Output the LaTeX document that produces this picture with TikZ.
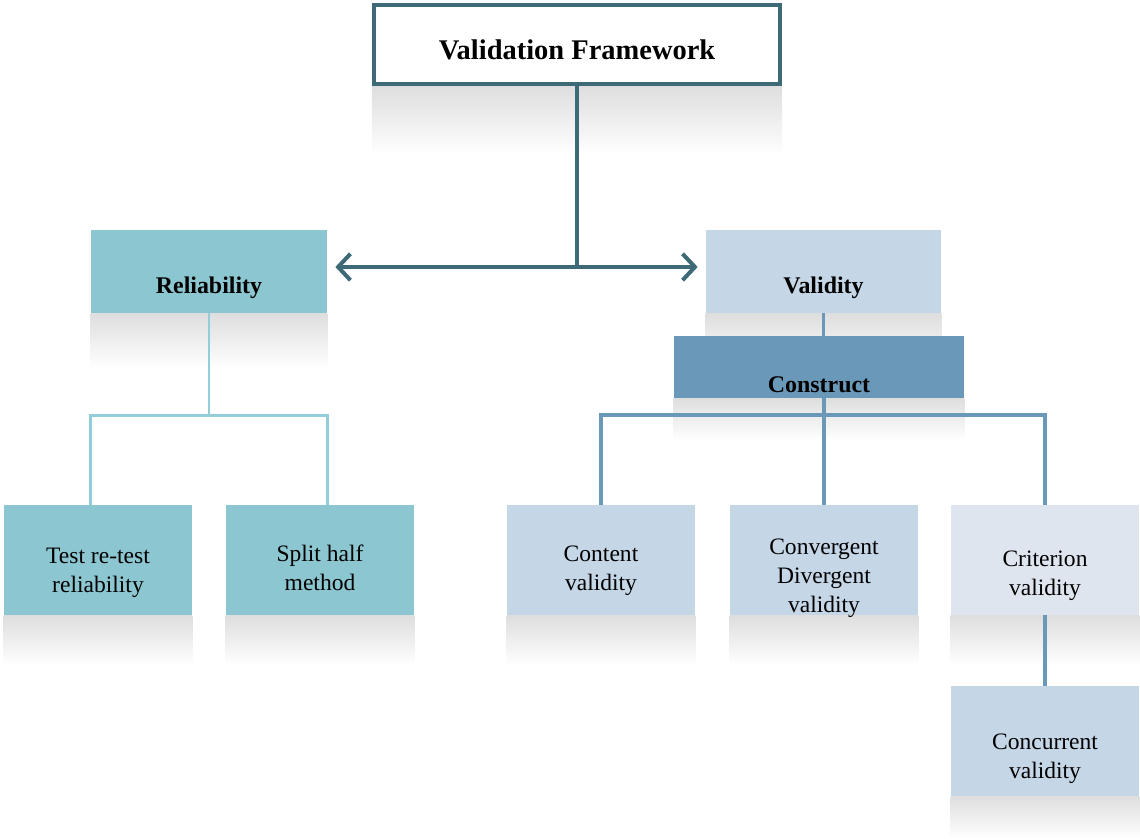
\documentclass[tikz,border=0pt]{standalone}
\usepackage{fontspec}
\setmainfont{Liberation Serif}
\usetikzlibrary{positioning,arrows.meta,backgrounds}

\definecolor{frameteal}{RGB}{62,106,120}
\definecolor{relfill}{RGB}{139,198,209}
\definecolor{relline}{RGB}{146,205,217}
\definecolor{valfill}{RGB}{197,214,230}
\definecolor{consblue}{RGB}{106,152,185}
\definecolor{critfill}{RGB}{222,229,238}

\begin{document}
\begin{tikzpicture}[>={Straight Barb[length=7pt,width=15pt]}]
\tikzstyle{head}=[rectangle, minimum width=4.72cm, minimum height=1.66cm, inner sep=0pt]
\tikzstyle{leaf}=[rectangle, minimum width=3.76cm, minimum height=2.2cm, inner sep=0pt]
\tikzstyle{txt}=[align=center, font=\fontsize{13.4}{16.6}\selectfont, yshift=-0.25cm]
\tikzstyle{bold}=[align=center, font=\fontsize{13.6}{16.6}\selectfont\bfseries, yshift=-0.32cm]
\tikzstyle{mirror}=[top color=black!13, bottom color=white]
\tikzstyle{mainline}=[draw=frameteal, line width=2.3pt]
\tikzstyle{tealline}=[draw=relline, line width=1.7pt]
\tikzstyle{blueline}=[draw=consblue, line width=1.9pt]
\useasboundingbox (0,0) rectangle (22.8,-16.76);
	% top of the tree
	\node[rectangle, draw=frameteal, line width=2.3pt, fill=white, minimum width=8.12cm, minimum height=1.58cm] (frame) at (11.54,-0.89)
		[label={[font=\fontsize{16.2}{19}\selectfont\bfseries, yshift=-0.1cm]center:Validation Framework}]{};
	% second level
	\node[head, fill=relfill] (rel) at (4.18,-5.43) [label={[bold]center:Reliability}]{};
	\node[head, fill=valfill, minimum width=4.7cm] (val) at (16.47,-5.43) [label={[bold]center:Validity}]{};
	\node[rectangle, fill=consblue, minimum width=5.8cm, minimum height=1.24cm] (cons) at (16.38,-7.34)
		[label={[bold, yshift=-0.03cm]center:Construct}]{};
	% leaves
	\node[leaf, fill=relfill] (trt) at (1.96,-11.2) [label={[txt]center:Test re-test\\reliability}]{};
	\node[leaf, fill=relfill] (shm) at (6.4,-11.2) [label={[txt, yshift=0.1cm]center:Split half\\method}]{};
	\node[leaf, fill=valfill] (cv) at (12.02,-11.2) [label={[txt, yshift=0.03cm]center:Content\\validity}]{};
	\node[leaf, fill=valfill] (cdv) at (16.48,-11.2) [label={[txt, yshift=-0.11cm]center:Convergent\\Divergent\\validity}]{};
	\node[leaf, fill=critfill] (crv) at (20.9,-11.2) [label={[txt, yshift=-0.06cm]center:Criterion\\validity}]{};
	\node[leaf, fill=valfill] (ccv) at (20.9,-14.82) [label={[txt, yshift=-0.11cm]center:Concurrent\\validity}]{};

	% faded reflections under the boxes
	\begin{scope}[on background layer]
	\foreach \n/\d in {frame/1.38, rel/1.1, val/1.1, cons/0.84, trt/1.0, shm/1.0, cv/1.0, cdv/1.0, crv/1.0, ccv/0.84}
		\shade[mirror] (\n.south west) rectangle ([yshift=-\d cm]\n.south east);
	\end{scope}

	\coordinate (split) at (11.54,-5.34);
	\coordinate (relbus) at (4.18,-8.3);
	\coordinate (consbus) at (16.48,-8.3);

	\draw[mainline] (frame.south) -- (split);
	\draw[mainline, <->, shorten <=0.16cm, shorten >=0.16cm] (split -| rel.east) -- (split -| val.west);

	\draw[tealline] (rel.south) -- (relbus);
	\draw[tealline] (rel.west |- trt.north) |- (relbus) -| (rel.east |- shm.north);

	\draw[blueline] (val.south) -- (val.south |- cons.north);
	\draw[blueline] (cdv.north |- cons.south) -- (cdv.north);
	\draw[blueline] (cv.north) |- (consbus) -| (crv.north);
	\draw[blueline] (crv.south) -- (ccv.north);

\end{tikzpicture}
\end{document}
